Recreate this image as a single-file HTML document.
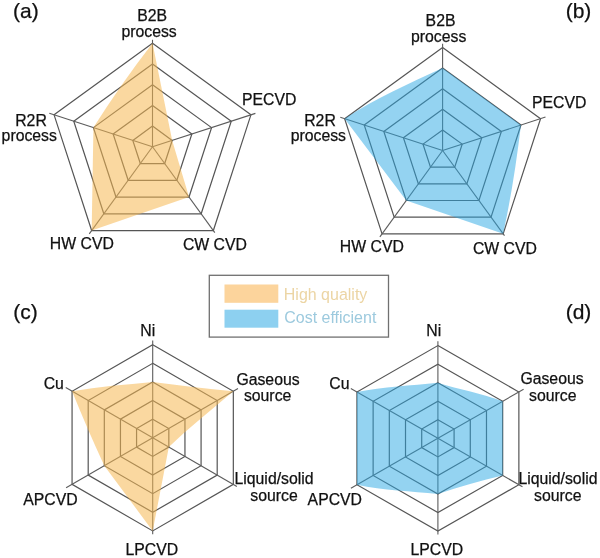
<!DOCTYPE html><html><head><meta charset="utf-8"><style>html,body{margin:0;padding:0;background:#fff;}svg{display:block;will-change:transform;}text{font-family:"Liberation Sans",Arial,sans-serif;}</style></head><body>
<svg width="600" height="558" viewBox="0 0 600 558">
<rect width="600" height="558" fill="#fff"/>
<g fill="none" stroke="#555" stroke-width="1.2" stroke-linejoin="miter"><polygon points="152.5,126.1 172.19,140.4 164.67,163.55 140.33,163.55 132.81,140.4"/><polygon points="152.5,105.4 191.87,134.01 176.83,180.29 128.17,180.29 113.13,134.01"/><polygon points="152.5,84.7 211.56,127.61 189,197.04 116,197.04 93.44,127.61"/><polygon points="152.5,64 231.25,121.21 201.17,213.79 103.83,213.79 73.75,121.21"/><polygon points="152.5,43.3 250.93,114.82 213.34,230.53 91.66,230.53 54.07,114.82"/></g>
<g stroke="#5c5c5c" stroke-width="1.1"><line x1="152.5" y1="146.8" x2="152.5" y2="39.8"/><line x1="152.5" y1="146.8" x2="255.4" y2="113.36"/><line x1="152.5" y1="146.8" x2="214.81" y2="232.56"/><line x1="152.5" y1="146.8" x2="89.25" y2="233.85"/><line x1="152.5" y1="146.8" x2="49.31" y2="113.27"/></g>
<path d="M152.5,43.3 L172.19,140.4 L189,197.04 L91.66,230.53 L93.44,127.61 C111.67,98.48 131.47,70.46 152.5,43.3Z" fill="#F6B852" fill-opacity="0.55"/>
<g fill="none" stroke="#555" stroke-width="1.2" stroke-linejoin="miter"><polygon points="442.6,129.9 462.19,144.13 454.71,167.17 430.49,167.17 423.01,144.13"/><polygon points="442.6,109.3 481.78,137.77 466.82,183.83 418.38,183.83 403.42,137.77"/><polygon points="442.6,88.7 501.38,131.4 478.93,200.5 406.27,200.5 383.82,131.4"/><polygon points="442.6,68.1 520.97,125.04 491.03,217.16 394.17,217.16 364.23,125.04"/><polygon points="442.6,47.5 540.56,118.67 503.14,233.83 382.06,233.83 344.64,118.67"/></g>
<g stroke="#5c5c5c" stroke-width="1.1"><line x1="442.6" y1="150.5" x2="442.6" y2="43.8"/><line x1="442.6" y1="150.5" x2="545.5" y2="117.06"/><line x1="442.6" y1="150.5" x2="504.49" y2="235.69"/><line x1="442.6" y1="150.5" x2="379.88" y2="236.82"/><line x1="442.6" y1="150.5" x2="340.27" y2="117.25"/></g>
<path d="M442.6,68.1 L520.97,125.04 C516.53,161.55 511.02,197.88 503.14,233.83 L406.27,200.5 L344.64,118.67 C375.56,98.46 409.26,83.63 442.6,68.1Z" fill="#29A7E3" fill-opacity="0.5"/>
<g fill="none" stroke="#555" stroke-width="1.2" stroke-linejoin="miter"><polygon points="152.7,419.18 168.83,428.49 168.83,447.11 152.7,456.42 136.57,447.11 136.57,428.49"/><polygon points="152.7,400.56 184.95,419.18 184.95,456.42 152.7,475.04 120.45,456.42 120.45,419.18"/><polygon points="152.7,381.94 201.08,409.87 201.08,465.73 152.7,493.66 104.32,465.73 104.32,409.87"/><polygon points="152.7,363.32 217.2,400.56 217.2,475.04 152.7,512.28 88.2,475.04 88.2,400.56"/><polygon points="152.7,344.7 233.33,391.25 233.33,484.35 152.7,530.9 72.07,484.35 72.07,391.25"/></g>
<g stroke="#5c5c5c" stroke-width="1.1"><line x1="152.7" y1="437.8" x2="152.7" y2="340.4"/><line x1="152.7" y1="437.8" x2="238" y2="388.55"/><line x1="152.7" y1="437.8" x2="236.88" y2="486.4"/><line x1="152.7" y1="437.8" x2="152.7" y2="534.2"/><line x1="152.7" y1="437.8" x2="66.1" y2="487.8"/><line x1="152.7" y1="437.8" x2="65.75" y2="387.6"/></g>
<path d="M152.7,381.94 C179.53,385.45 206.36,388.91 233.33,391.25 C211.63,409.65 189.27,427.28 168.83,447.11 L152.7,530.9 L104.32,465.73 C92.96,441.17 82.21,416.34 72.07,391.25 C98.77,386.56 125.76,384.51 152.7,381.94Z" fill="#F6B852" fill-opacity="0.55"/>
<g fill="none" stroke="#555" stroke-width="1.2" stroke-linejoin="miter"><polygon points="437.9,419.8 454.09,429.08 454.09,447.62 437.9,456.9 421.71,447.62 421.71,429.08"/><polygon points="437.9,401.25 470.29,419.8 470.29,456.9 437.9,475.45 405.51,456.9 405.51,419.8"/><polygon points="437.9,382.7 486.48,410.53 486.48,466.18 437.9,494 389.32,466.18 389.32,410.53"/><polygon points="437.9,364.15 502.67,401.25 502.67,475.45 437.9,512.55 373.13,475.45 373.13,401.25"/><polygon points="437.9,345.6 518.87,391.98 518.87,484.73 437.9,531.1 356.93,484.73 356.93,391.98"/></g>
<g stroke="#5c5c5c" stroke-width="1.1"><line x1="437.9" y1="438.35" x2="437.9" y2="341.3"/><line x1="437.9" y1="438.35" x2="523.58" y2="389.28"/><line x1="437.9" y1="438.35" x2="522.45" y2="486.78"/><line x1="437.9" y1="438.35" x2="437.9" y2="534.4"/><line x1="437.9" y1="438.35" x2="350.91" y2="488.18"/><line x1="437.9" y1="438.35" x2="350.82" y2="388.48"/></g>
<path d="M437.9,382.7 C459.26,389.68 481.66,393.06 502.67,401.25 L502.67,475.45 C480.79,480.61 459.2,486.79 437.9,494 C410.87,491.26 383.64,490.28 356.93,484.73 L356.93,391.98 C383.68,386.81 410.88,385.49 437.9,382.7Z" fill="#29A7E3" fill-opacity="0.5"/>
<rect x="209.3" y="275.3" width="179.2" height="61.8" fill="none" stroke="#707070" stroke-width="1.3"/>
<rect x="224.5" y="284.5" width="53.8" height="18.3" fill="#FCD49C"/>
<rect x="224.5" y="309.7" width="53.8" height="18" fill="#8DD0F0"/>
<text transform="translate(13 17.8) scale(1 1.0)" font-size="21" fill="#111" stroke="#111" stroke-width="0.25">(a)</text>
<text transform="translate(137.2 21.45) scale(1 1.0)" font-size="15.8" fill="#111" stroke="#111" stroke-width="0.25">B2B</text>
<text transform="translate(121.4 37.25) scale(1 1.0)" font-size="15.8" fill="#111" stroke="#111" stroke-width="0.25">process</text>
<text transform="translate(241.9 104.7) scale(1 1.0)" font-size="15.8" fill="#111" stroke="#111" stroke-width="0.25">PECVD</text>
<text transform="translate(15.2 126) scale(1 1.0)" font-size="15.8" fill="#111" stroke="#111" stroke-width="0.25">R2R</text>
<text transform="translate(1.6 141.2) scale(1 1.0)" font-size="15.8" fill="#111" stroke="#111" stroke-width="0.25">process</text>
<text transform="translate(49.8 248.5) scale(1 1.0)" font-size="15.8" fill="#111" stroke="#111" stroke-width="0.25">HW CVD</text>
<text transform="translate(182.9 249.7) scale(1 1.0)" font-size="15.8" fill="#111" stroke="#111" stroke-width="0.25">CW CVD</text>
<text transform="translate(565.7 18) scale(1 1.0)" font-size="21" fill="#111" stroke="#111" stroke-width="0.25">(b)</text>
<text transform="translate(425.6 26) scale(1 1.0)" font-size="15.8" fill="#111" stroke="#111" stroke-width="0.25">B2B</text>
<text transform="translate(411 41.5) scale(1 1.0)" font-size="15.8" fill="#111" stroke="#111" stroke-width="0.25">process</text>
<text transform="translate(531.9 108) scale(1 1.0)" font-size="15.8" fill="#111" stroke="#111" stroke-width="0.25">PECVD</text>
<text transform="translate(304.2 126) scale(1 1.0)" font-size="15.8" fill="#111" stroke="#111" stroke-width="0.25">R2R</text>
<text transform="translate(290.7 141.2) scale(1 1.0)" font-size="15.8" fill="#111" stroke="#111" stroke-width="0.25">process</text>
<text transform="translate(339.8 251.7) scale(1 1.0)" font-size="15.8" fill="#111" stroke="#111" stroke-width="0.25">HW CVD</text>
<text transform="translate(472.9 253.5) scale(1 1.0)" font-size="15.8" fill="#111" stroke="#111" stroke-width="0.25">CW CVD</text>
<text transform="translate(13.3 318.8) scale(1 1.0)" font-size="21" fill="#111" stroke="#111" stroke-width="0.25">(c)</text>
<text transform="translate(140.3 335.9) scale(1 1.0)" font-size="15.8" fill="#111" stroke="#111" stroke-width="0.25">Ni</text>
<text transform="translate(43.7 388.6) scale(1 1.0)" font-size="15.8" fill="#111" stroke="#111" stroke-width="0.25">Cu</text>
<text transform="translate(236.4 384.7) scale(1 1.0)" font-size="15.8" fill="#111" stroke="#111" stroke-width="0.25">Gaseous</text>
<text transform="translate(243.9 400.5) scale(1 1.0)" font-size="15.8" fill="#111" stroke="#111" stroke-width="0.25">source</text>
<text transform="translate(234.5 484.2) scale(1 1.0)" font-size="15.8" fill="#111" stroke="#111" stroke-width="0.25">Liquid/solid</text>
<text transform="translate(250.3 500.5) scale(1 1.0)" font-size="15.8" fill="#111" stroke="#111" stroke-width="0.25">source</text>
<text transform="translate(23.3 504.9) scale(1 1.0)" font-size="15.8" fill="#111" stroke="#111" stroke-width="0.25">APCVD</text>
<text transform="translate(125.4 554.5) scale(1 1.0)" font-size="15.8" fill="#111" stroke="#111" stroke-width="0.25">LPCVD</text>
<text transform="translate(565.7 318.5) scale(1 1.0)" font-size="21" fill="#111" stroke="#111" stroke-width="0.25">(d)</text>
<text transform="translate(426.3 335.9) scale(1 1.0)" font-size="15.8" fill="#111" stroke="#111" stroke-width="0.25">Ni</text>
<text transform="translate(329.3 389.3) scale(1 1.0)" font-size="15.8" fill="#111" stroke="#111" stroke-width="0.25">Cu</text>
<text transform="translate(520.4 384.2) scale(1 1.0)" font-size="15.8" fill="#111" stroke="#111" stroke-width="0.25">Gaseous</text>
<text transform="translate(529 400.5) scale(1 1.0)" font-size="15.8" fill="#111" stroke="#111" stroke-width="0.25">source</text>
<text transform="translate(518.4 484.2) scale(1 1.0)" font-size="15.8" fill="#111" stroke="#111" stroke-width="0.25">Liquid/solid</text>
<text transform="translate(534 500.5) scale(1 1.0)" font-size="15.8" fill="#111" stroke="#111" stroke-width="0.25">source</text>
<text transform="translate(307.6 504.9) scale(1 1.0)" font-size="15.8" fill="#111" stroke="#111" stroke-width="0.25">APCVD</text>
<text transform="translate(410.4 554.5) scale(1 1.0)" font-size="15.8" fill="#111" stroke="#111" stroke-width="0.25">LPCVD</text>
<text transform="translate(283.8 300) scale(1 0.98)" font-size="16" fill="#ECD5A4">High quality</text>
<text transform="translate(284.2 323.4) scale(1 0.98)" font-size="16" fill="#9DCADE">Cost efficient</text>
</svg></body></html>
